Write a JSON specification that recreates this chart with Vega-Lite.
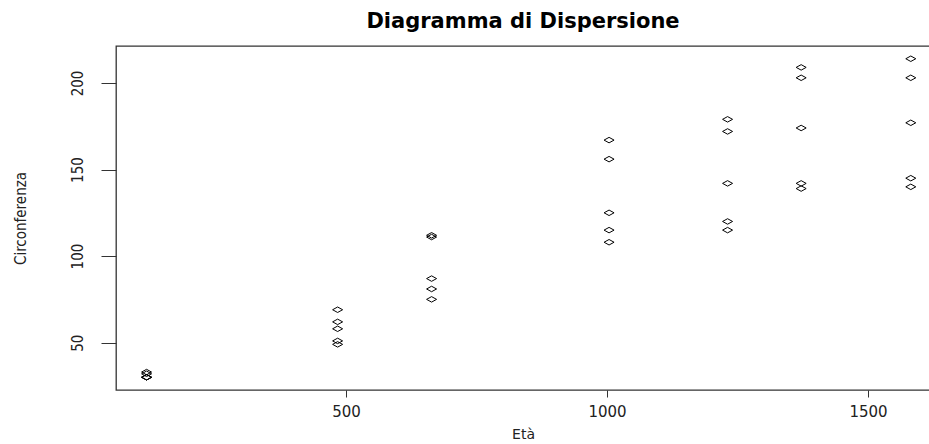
{
  "$schema": "https://vega.github.io/schema/vega-lite/v6.json",
  "autosize": "none",
  "padding": {"left": 116, "top": 46, "right": 0, "bottom": 54},
  "width": 814,
  "height": 344,
  "background": "white",
  "title": {"text": "Diagramma di Dispersione", "font": "DejaVu Sans", "fontSize": 21, "fontWeight": "bold", "color": "black", "offset": 14, "anchor": "middle"},
  "config": {"view": {"stroke": "#333333", "strokeWidth": 1.3}},
  "data": {"values": [
    {"eta": 118, "circ": 30}, {"eta": 484, "circ": 58}, {"eta": 664, "circ": 87}, {"eta": 1004, "circ": 115}, {"eta": 1231, "circ": 120}, {"eta": 1372, "circ": 142}, {"eta": 1582, "circ": 145},
    {"eta": 118, "circ": 33}, {"eta": 484, "circ": 69}, {"eta": 664, "circ": 111}, {"eta": 1004, "circ": 156}, {"eta": 1231, "circ": 172}, {"eta": 1372, "circ": 203}, {"eta": 1582, "circ": 203},
    {"eta": 118, "circ": 30}, {"eta": 484, "circ": 51}, {"eta": 664, "circ": 75}, {"eta": 1004, "circ": 108}, {"eta": 1231, "circ": 115}, {"eta": 1372, "circ": 139}, {"eta": 1582, "circ": 140},
    {"eta": 118, "circ": 32}, {"eta": 484, "circ": 62}, {"eta": 664, "circ": 112}, {"eta": 1004, "circ": 167}, {"eta": 1231, "circ": 179}, {"eta": 1372, "circ": 209}, {"eta": 1582, "circ": 214},
    {"eta": 118, "circ": 30}, {"eta": 484, "circ": 49}, {"eta": 664, "circ": 81}, {"eta": 1004, "circ": 125}, {"eta": 1231, "circ": 142}, {"eta": 1372, "circ": 174}, {"eta": 1582, "circ": 177}
  ]},
  "mark": {"type": "point", "shape": "M-1,0 L0,-0.55 L1,0 L0,0.55 Z", "size": 100, "filled": false, "stroke": "black", "strokeWidth": 1, "opacity": 1},
  "encoding": {
    "x": {"field": "eta", "type": "quantitative",
      "scale": {"domain": [59.44, 1618.8], "nice": false, "zero": false},
      "axis": {"title": "Età", "values": [500, 1000, 1500], "format": "d", "grid": false, "domain": false,
        "tickColor": "#333333", "tickSize": 7, "labelFont": "DejaVu Sans", "labelFontSize": 15, "labelColor": "#222222", "labelPadding": 7,
        "titleFont": "DejaVu Sans", "titleFontSize": 14, "titleFontWeight": "normal", "titleColor": "#222222", "titlePadding": 8}},
    "y": {"field": "circ", "type": "quantitative",
      "scale": {"domain": [22.64, 221.36], "nice": false, "zero": false},
      "axis": {"title": "Circonferenza", "values": [50, 100, 150, 200], "grid": false, "domain": false,
        "tickColor": "#333333", "tickSize": 15, "labelAngle": -90, "labelAlign": "center", "labelBaseline": "bottom",
        "labelFont": "Liberation Sans Narrow, DejaVu Sans Condensed, Roboto Condensed, Liberation Sans, sans-serif", "labelFontSize": 15, "labelColor": "#222222", "labelPadding": 16,
        "titleFont": "Liberation Sans Narrow, DejaVu Sans Condensed, Roboto Condensed, Liberation Sans, sans-serif", "titleFontSize": 15, "titleFontWeight": "normal", "titleColor": "#222222", "titlePadding": 42}}
  }
}
